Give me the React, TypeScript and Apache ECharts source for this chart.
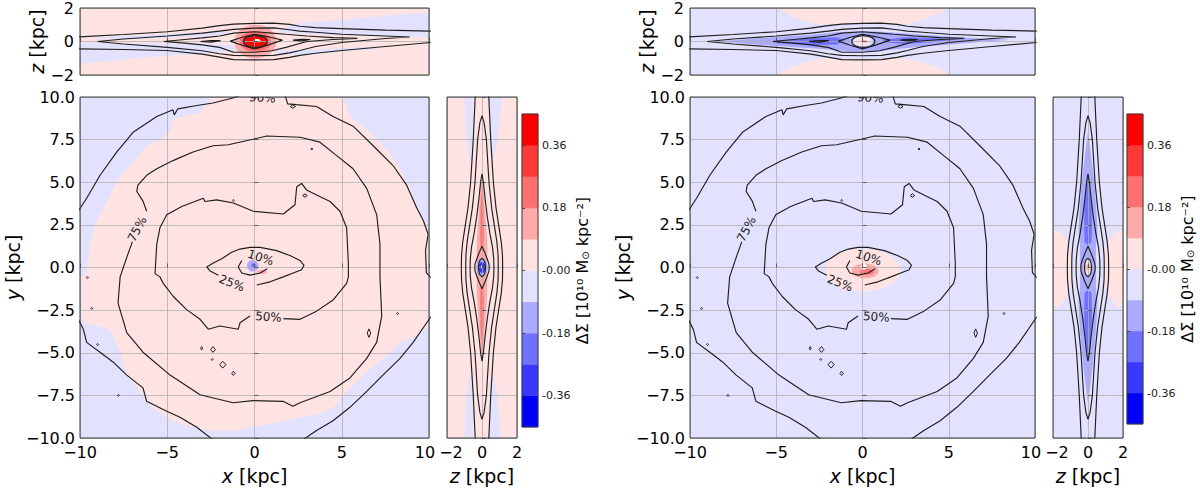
import React, { useEffect, useRef } from "react";
import * as echarts from "echarts";

type Pt = [number, number];

const FONT = "DejaVu Sans";
const INK = "#1e1e1e";

// ΔΣ colour levels and the bwr colours of the ten bands between them
const levels = [-0.45, -0.36, -0.27, -0.18, -0.09, 0, 0.09, 0.18, 0.27, 0.36, 0.45];
const bandColors = ["#0000ff", "#3838ff", "#7171ff", "#aaaaff", "#e2e2ff", "#ffe2e2", "#ffaaaa", "#ff7171", "#ff3838", "#ff0000"];
const colorbarTicks = [-0.36, -0.18, 0, 0.18, 0.36];
const PINK = bandColors[5];
const BLUE = bandColors[4];

// ---------- face-on (x, y) enclosed-mass contours, shared by both panels ----------
const face10: Pt[] = [[-0.73, 0.41], [-0.93, 0.03], [-0.73, -0.32], [-0.26, -0.45], [0.32, -0.32], [0.73, -0.07]];
const face25: Pt[] = [
  [0.13, -1.03], [0.89, -0.84], [1.65, -0.55], [2.22, -0.32], [2.7, -0.13], [2.84, 0.13], [2.61, 0.41],
  [2.03, 0.7], [1.27, 0.99], [0.32, 1.18], [-0.26, 1.18], [-0.83, 1.08], [-1.31, 0.89], [-1.88, 0.51],
  [-2.36, 0.26], [-2.74, 0.03], [-2.55, -0.2], [-2.07, -0.45],
];
const face50: Pt[] = [
  [1.65, -3.0], [2.61, -3.04], [3.56, -2.56], [4.52, -1.89], [5.28, -0.93], [5.38, -0.55], [5.38, 0.22],
  [5.28, 2.33], [4.9, 3.3], [4.33, 3.87], [3.56, 4.25], [2.99, 4.54], [2.7, 4.93], [2.42, 4.74], [2.32, 3.68],
  [1.65, 3.14], [-0.07, 3.3], [-1.21, 3.78], [-2.17, 3.97], [-2.84, 3.87], [-2.93, 4.06], [-4.17, 3.58],
  [-5.03, 3.1], [-5.42, 2.33], [-5.6, 1.37], [-5.7, -0.36], [-5.42, -0.55], [-5.23, -0.93], [-4.65, -1.7],
  [-3.89, -2.47], [-3.12, -3.04], [-2.65, -3.62], [-1.98, -3.43], [-0.93, -3.62], [-0.83, -3.24], [-0.26, -2.85],
];
const face75: Pt[] = [
  [-6.18, 3.3], [-6.39, 3.89], [-6.75, 4.47], [-6.68, 4.83], [-6.18, 5.41], [-5.6, 5.79], [-4.67, 6.27],
  [-3.52, 6.77], [-2.38, 7.14], [-1.5, 7.2], [-0.09, 7.52], [0.7, 7.71], [2.61, 7.64], [3.75, 7.35],
  [4.71, 6.56], [5.65, 5.79], [6.43, 4.64], [7.0, 3.1], [7.19, 1.37], [7.19, -0.55], [7.29, -2.85],
  [7.0, -4.39], [6.43, -5.33], [5.47, -6.48], [4.33, -7.27], [2.61, -7.93], [2.2, -8.14], [1.63, -7.85],
  [-0.09, -7.81], [-1.23, -7.93], [-3.12, -7.46], [-4.84, -6.31], [-6.39, -4.97], [-7.32, -3.82],
  [-7.82, -2.09], [-7.7, -0.55], [-7.25, 0.8], [-7.0, 1.5],
];
const face90a: Pt[] = [
  [-10.1, 3.31], [-9.62, 4.06], [-8.85, 5.41], [-7.9, 6.77], [-6.96, 7.93], [-5.6, 8.86], [-4.67, 9.25],
  [-4.6, 8.95], [-4.4, 9.3], [-3.3, 9.5], [-2.38, 9.65], [-1.23, 9.94], [-0.8, 10.1],
];
const face90b: Pt[] = [
  [1.75, 10.1], [1.9, 9.6], [2.4, 9.55], [3.56, 9.44], [4.5, 8.86], [5.65, 8.29], [6.8, 7.14], [7.94, 5.98],
  [8.72, 4.83], [9.3, 3.49], [9.68, 2.74], [9.95, 1.95], [9.8, 1.0], [9.85, -0.3], [10.1, -0.6],
];
const face90c: Pt[] = [
  [10.1, -2.9], [9.87, -3.24], [9.09, -4.39], [8.34, -5.33], [7.36, -6.31], [6.43, -7.27], [5.47, -8.2],
  [4.5, -8.99], [3.56, -9.56], [2.78, -10.1],
];
const face90d: Pt[] = [
  [-2.38, -10.1], [-3.31, -9.37], [-4.27, -8.78], [-5.03, -8.43], [-6.18, -7.85], [-6.39, -7.06],
  [-7.32, -6.31], [-8.11, -5.54], [-8.85, -4.97], [-9.62, -4.39], [-9.81, -3.62], [-10.1, -3.03],
];
// small isolated islands of the outer levels: [x, y, half-width, half-height]
const faceIslands = [
  [-2.38, -4.81, 0.14, 0.17], [-1.82, -5.7, 0.18, 0.2], [-1.21, -6.21, 0.1, 0.12], [6.56, -3.85, 0.1, 0.25],
  [2.89, 4.22, 0.13, 0.1], [2.2, 9.44, 0.15, 0.1], [-3.03, -4.74, 0.04, 0.1], [-2.42, -5.39, 0.04, 0.05],
  [-9.33, -2.4, 0.05, 0.05], [-8.99, -4.52, 0.05, 0.05], [-7.8, -7.5, 0.05, 0.05], [3.28, 6.95, 0.05, 0.05],
  [-1.21, 3.93, 0.05, 0.05], [-9.58, -0.59, 0.05, 0.05], [8.2, -2.7, 0.04, 0.04],
];
// contour labels: [x, y, rotation in degrees, text index]
const faceLabelText = ["10%", "25%", "50%", "75%", "90%"];
const faceLabels = [
  [0.35, 0.58, -18, 0], [-1.3, -0.92, -22, 1], [0.8, -2.9, -4, 2], [-6.72, 2.25, 62, 3], [0.45, 9.95, -3, 4],
];

// ---------- edge-on (x, z) contours, shared by both panels ----------
const edgeOuterUpper: Pt[] = [
  [-10.1, 0.27], [-7.5, 0.42], [-5, 0.58], [-3, 0.8], [-2, 0.95], [-1.2, 1.04], [0, 1.08], [1.1, 1.1],
  [2, 1.02], [2.6, 0.91], [3.5, 0.83], [5, 0.77], [7.5, 0.68], [10.1, 0.62],
];
const edgeOuterLower: Pt[] = [
  [-10.1, -0.44], [-7.5, -0.48], [-5, -0.54], [-3, -0.75], [-2, -0.93], [-1.2, -1.08], [0, -1.1],
  [1.1, -1.08], [2, -0.95], [2.6, -0.83], [3.5, -0.7], [5, -0.54], [7.5, -0.3], [10.1, -0.06],
];
const edgeSecond: Pt[] = [
  [-9, 0.0], [-7.5, 0.15], [-5, 0.33], [-3, 0.5], [-2, 0.62], [-1.2, 0.72], [0, 0.8], [1.1, 0.81], [2, 0.7],
  [2.6, 0.62], [3.5, 0.55], [5, 0.43], [7.5, 0.33], [8.9, 0.27], [7.5, 0.18], [5, -0.06], [3.5, -0.3],
  [2.6, -0.54], [2, -0.68], [1.1, -0.83], [0, -0.85], [-1.2, -0.83], [-2, -0.73], [-3, -0.55], [-5, -0.35],
  [-7.5, -0.15], [-9, 0.0],
];
const edgeThird: Pt[] = [
  [-5.2, 0], [-4, 0.12], [-3, 0.22], [-2, 0.33], [-1.2, 0.5], [0, 0.58], [1, 0.5], [1.8, 0.43], [3, 0.33],
  [4.5, 0.23], [5.9, 0.19], [4.5, 0.12], [3, 0.0], [1.8, -0.35], [1, -0.55], [0, -0.64], [-1.2, -0.64],
  [-2, -0.35], [-3, -0.2], [-4, -0.1], [-5.2, 0],
];
const edgeFourth: Pt[] = [
  [-1.4, 0.02], [-0.7, 0.25], [0, 0.43], [0.8, 0.28], [1.6, 0.08], [0.8, -0.2], [0, -0.44], [-0.7, -0.22], [-1.4, 0.02],
];
const edgeDashLeft: Pt[] = [[-3.1, 0.0], [-2.5, 0.06], [-1.95, 0.05], [-2.5, -0.04], [-3.1, 0.0]];
const edgeDashRight: Pt[] = [[2.2, 0.08], [2.7, 0.13], [3.2, 0.12], [2.7, 0.04], [2.2, 0.08]];
const edgeInnerRing = [[0.05, 0.0, 0.67, 0.35]];

// ---------- edge-on (z, y) contours: [y, half-width in z] from the mid-plane outwards ----------
const sideOuter = [[0, 1.18], [0.7, 1.17], [1.5, 1.1], [2.5, 0.95], [3.5, 0.8], [5, 0.65], [7.5, 0.5], [10.2, 0.38]];
const sideSecond = [[0, 0.93], [0.7, 0.92], [1.5, 0.85], [2.5, 0.7], [3.5, 0.55], [5, 0.4], [7.5, 0.25], [8.5, 0.12], [8.9, 0]];
const sideThird = [[0, 0.68], [0.5, 0.67], [1.2, 0.6], [2, 0.45], [3, 0.3], [4, 0.18], [5, 0.08], [5.5, 0]];
const sideFourth = [[0, 0.41], [0.2, 0.4], [0.5, 0.3], [0.9, 0.15], [1.25, 0]];
const sideFifth = [[0, 0.2], [0.3, 0.17], [0.45, 0.1], [0.55, 0]];

// ---------- ΔΣ fields, left panel ----------
const leftFacePink: Pt[] = [
  [-2.4, 10], [5.09, 10], [5.47, 8.86], [6.43, 8.1], [7.38, 7.14], [8.34, 5.79], [8.91, 4.64], [9.48, 3.1],
  [10, 2.33], [10, -3.43], [9.3, -4.0], [8.34, -4.39], [7.38, -5.35], [6.43, -6.12], [5.47, -7.08], [4.5, -8.24],
  [3.75, -8.61], [2.61, -8.8], [0.7, -9.19], [-1.23, -9.58], [-2.38, -9.58], [-3.5, -9.38], [-4.65, -9.0],
  [-5.8, -8.24], [-6.56, -7.27], [-7.32, -6.31], [-7.7, -4.97], [-8.3, -3.6], [-9.62, -3.3], [-9.9, -2.85],
  [-9.9, -0.5], [-9.62, -0.36], [-9.43, 1.37], [-9.04, 2.74], [-8.28, 4.24], [-7.9, 5.04], [-6.96, 6.2],
  [-6.18, 7.1], [-4.84, 7.9], [-4.7, 8.7], [-3.1, 9.1],
];
// spots: [x, y, half-width, half-height, band colour index]
const leftFaceSpots = [[-0.1, 0.1, 0.33, 0.34, 3], [-0.05, 0.1, 0.12, 0.16, 2], [0.42, -0.26, 0.3, 0.13, 6]];

const leftEdgeBlue: Pt[][] = [
  [[-10, -0.06], [-6.9, -0.12], [-3.1, -0.12], [-1.5, -0.2], [-0.8, -0.45], [-1.2, -0.6], [-3.1, -0.75],
    [-5, -0.85], [-6.9, -1.02], [-8.8, -1.22], [-10, -1.31]],
  [[-9, 0.12], [-6, 0.2], [-3, 0.3], [-1.5, 0.45], [-1.5, 0.62], [-3, 0.55], [-5, 0.45], [-7, 0.35], [-9, 0.25]],
  [[1.5, 0.75], [2.8, 1.16], [4.1, 1.2], [6, 1.39], [7.9, 1.58], [10, 1.72], [10, 0.27], [6, 0.33], [3.1, 0.43], [1.5, 0.55]],
  [[1.2, -0.5], [3, -0.5], [5, -0.4], [7, -0.3], [7, -0.45], [5, -0.6], [2.6, -0.85], [1.2, -0.7]],
];
const leftEdgeSpots = [
  [0.05, 0.0, 1.2, 1.0, 6], [0.05, 0.0, 0.9, 0.62, 7], [0.05, 0.0, 0.75, 0.45, 8], [0.05, 0.0, 0.6, 0.3, 9],
  [0.15, 0.05, 0.2, 0.1, -1],
];

const leftSideBlue: Pt[][] = [
  [[-1.0, 10], [-0.55, 10], [-0.5, 8.5], [-0.55, 7], [-0.6, 6], [-0.75, 6.5], [-0.9, 8]],
  [[0.4, 10], [1.15, 10], [1.0, 8.5], [0.8, 7], [0.55, 6], [0.45, 7], [0.4, 8.5]],
  [[-1.0, -10], [-0.55, -10], [-0.5, -8.5], [-0.55, -7], [-0.6, -6], [-0.75, -6.5], [-0.9, -8]],
  [[0.4, -10], [1.1, -10], [0.95, -8.5], [0.8, -7], [0.55, -6], [0.45, -7], [0.4, -8.5]],
];
const leftSideRed: Pt[] = [
  [0, 5.4], [0.1, 4.5], [0.2, 3], [0.3, 1.5], [0.3, -1.5], [0.2, -3], [0.1, -4.5], [0, -5.5], [-0.1, -4.5],
  [-0.2, -3], [-0.3, -1.5], [-0.3, 1.5], [-0.2, 3], [-0.1, 4.5],
];
const leftSideDeepRed: Pt[][] = [
  [[0, 4.6], [0.08, 3.5], [0.1, 2], [0.08, 1.2], [-0.08, 1.2], [-0.1, 2], [-0.08, 3.5]],
  [[0, -4.6], [0.08, -3.5], [0.1, -2], [0.08, -1.2], [-0.08, -1.2], [-0.1, -2], [-0.08, -3.5]],
];
const leftSideSpots = [[0, 0.0, 0.32, 0.55, 3], [0, 0.0, 0.2, 0.32, 1], [0, 0.05, 0.05, 0.1, -1]];

// ---------- ΔΣ fields, right panel ----------
const rightFaceSpots = [
  [0.0, -0.15, 2.17, 1.25, 5], [0.15, -0.2, 0.78, 0.43, 6], [0.25, -0.25, 0.4, 0.18, 7], [0.08, 0.05, 0.16, 0.18, -1],
];
const rightEdgePink: Pt[][] = [
  [[-4.9, 2], [4.96, 2], [4.48, 1.68], [3.5, 1.3], [2.34, 1.0], [1.0, 1.08], [-1.0, 1.08], [-2.3, 1.0], [-3.27, 1.2], [-4.24, 1.58]],
  [[-5, -2], [5.1, -2], [4.5, -1.6], [3.5, -1.25], [2.3, -1.0], [1, -1.05], [-1, -1.05], [-2.3, -1.0], [-3.3, -1.22], [-4.3, -1.6]],
];
const rightEdgeBlue: Pt[] = [
  [-8.5, 0.0], [-6, 0.2], [-3, 0.4], [-1.5, 0.55], [-0.8, 0.6], [0.8, 0.6], [1.5, 0.55], [3, 0.45], [6, 0.22],
  [8.5, 0.1], [6, -0.1], [3, -0.35], [1.5, -0.5], [0.8, -0.6], [-0.8, -0.6], [-1.5, -0.5], [-3, -0.4], [-6, -0.2],
];
const rightEdgeDeepBlue: Pt[][] = [
  [[-5, 0.05], [-3, 0.2], [-1.5, 0.25], [-1.0, 0.05], [-1.5, -0.18], [-3, -0.22], [-5, -0.1]],
  [[1.2, 0.1], [2.5, 0.25], [4, 0.2], [5.5, 0.12], [4, -0.05], [2.5, -0.15], [1.2, -0.05]],
  [[-3.1, 0.02], [-2.5, 0.09], [-1.9, 0.05], [-2.5, -0.06]],
  [[2.2, 0.1], [2.7, 0.15], [3.2, 0.12], [2.7, 0.02]],
];
const rightEdgeSpots = [[0.0, 0.0, 0.6, 0.32, 4], [0.0, 0.0, 0.45, 0.25, 5], [0.1, 0.0, 0.2, 0.08, 6]];

const rightSidePink: Pt[][] = [
  [[-2, 2.15], [-1.6, 2.15], [-1.15, 1.5], [-0.95, 0.9], [-0.95, -0.9], [-1.15, -1.5], [-1.6, -2.3], [-2, -2.3]],
  [[2, 2.15], [1.6, 2.15], [1.15, 1.5], [0.95, 0.9], [0.95, -0.9], [1.15, -1.5], [1.6, -2.3], [2, -2.3]],
];
const rightSideBlue: Pt[] = [
  [0, 8], [0.12, 7], [0.25, 6], [0.4, 4.5], [0.5, 3], [0.55, 2], [0.45, 1.2], [0.45, -1.2], [0.55, -2], [0.5, -3],
  [0.4, -4.5], [0.25, -6], [0.12, -7], [0, -8], [-0.12, -7], [-0.25, -6], [-0.4, -4.5], [-0.5, -3], [-0.55, -2],
  [-0.45, -1.2], [-0.45, 1.2], [-0.55, 2], [-0.5, 3], [-0.4, 4.5], [-0.25, 6], [-0.12, 7],
];
const rightSideDeepBlue: Pt[][] = [
  [[0, 5.3], [0.1, 4.5], [0.2, 3.5], [0.22, 2.5], [0.2, 1.5], [0, 1.3], [-0.2, 1.5], [-0.22, 2.5], [-0.2, 3.5], [-0.1, 4.5]],
  [[0, -5.3], [0.1, -4.5], [0.2, -3.5], [0.22, -2.5], [0.2, -1.5], [0, -1.3], [-0.2, -1.5], [-0.22, -2.5], [-0.2, -3.5], [-0.1, -4.5]],
];
const rightSideSpots = [[0, 0, 0.22, 0.5, 5], [0, 0, 0.1, 0.2, 6]];

// ---------- layout of the two panels (pixels) ----------
const PANELS = [
  { top: [80, 6, 349, 69], main: [80, 97, 349, 347], side: [447, 97, 70, 347], cbar: [522, 114, 16, 313] },
  { top: [690, 6, 345, 69], main: [690, 97, 345, 344], side: [1053, 97, 70, 344], cbar: [1127, 114, 16, 310] },
];

const spotColor = (i: number) => (i < 0 ? "#ffffff" : bandColors[i]);
const minus = (s: string) => s.replace("-", "\u2212");

function polygon(pts: Pt[], fill: string, g: number, z = 1) {
  return {
    type: "custom", xAxisIndex: g, yAxisIndex: g, data: pts, encode: { x: 0, y: 1 }, clip: true, silent: true, z,
    renderItem: (params: any, api: any) => {
      if (params.dataIndex !== 0) return null;
      return { type: "polygon", shape: { points: pts.map((p) => api.coord(p)) }, style: { fill } };
    },
  };
}

function spots(items: number[][], g: number, z = 1) {
  return {
    type: "custom", xAxisIndex: g, yAxisIndex: g, data: items, encode: { x: 0, y: 1 }, clip: true, silent: true, z,
    renderItem: (params: any, api: any) => {
      const c = api.coord([api.value(0), api.value(1)]);
      const s = api.size([api.value(2), api.value(3)]);
      return { type: "ellipse", shape: { cx: c[0], cy: c[1], rx: s[0], ry: s[1] }, style: { fill: spotColor(items[params.dataIndex][4]) } };
    },
  };
}

function contour(pts: Pt[], g: number) {
  return {
    type: "line", xAxisIndex: g, yAxisIndex: g, data: pts, showSymbol: false, symbol: "none", clip: true, silent: true,
    lineStyle: { color: INK, width: 1.15 }, z: 8,
  };
}

function rings(items: number[][], g: number) {
  return {
    type: "custom", xAxisIndex: g, yAxisIndex: g, data: items, encode: { x: 0, y: 1 }, clip: true, silent: true, z: 8,
    renderItem: (params: any, api: any) => {
      const c = api.coord([api.value(0), api.value(1)]);
      const s = api.size([api.value(2), api.value(3)]);
      return { type: "ellipse", shape: { cx: c[0], cy: c[1], rx: s[0], ry: s[1] }, style: { fill: "none", stroke: INK, lineWidth: 1.15 } };
    },
  };
}

function islands(items: number[][], g: number) {
  return {
    type: "custom", xAxisIndex: g, yAxisIndex: g, data: items, encode: { x: 0, y: 1 }, clip: true, silent: true, z: 8,
    renderItem: (params: any, api: any) => {
      const c = api.coord([api.value(0), api.value(1)]);
      const s = api.size([api.value(2), api.value(3)]);
      const w = Math.max(s[0], 1), h = Math.max(s[1], 1);
      return {
        type: "polygon",
        shape: { points: [[c[0], c[1] - h], [c[0] + w, c[1]], [c[0], c[1] + h], [c[0] - w, c[1]]] },
        style: { fill: "none", stroke: INK, lineWidth: 1 },
      };
    },
  };
}

function contourLabels(g: number) {
  return {
    type: "custom", xAxisIndex: g, yAxisIndex: g, data: faceLabels, encode: { x: 0, y: 1 }, clip: true, silent: true, z: 9,
    renderItem: (params: any, api: any) => {
      const c = api.coord([api.value(0), api.value(1)]);
      return {
        type: "text", x: c[0], y: c[1], rotation: (api.value(2) * Math.PI) / 180,
        style: {
          text: faceLabelText[faceLabels[params.dataIndex][3]], fill: "#222", font: `12px '${FONT}'`,
          align: "center", verticalAlign: "middle",
        },
      };
    },
  };
}

function colorbar(g: number) {
  const bands = bandColors.map((_, i) => [0, levels[i], 1, levels[i + 1]]);
  return {
    type: "custom", xAxisIndex: g, yAxisIndex: g, data: bands, encode: { x: 0, y: 1 }, silent: true, z: 1,
    renderItem: (params: any, api: any) => {
      const a = api.coord([api.value(0), api.value(1)]);
      const b = api.coord([api.value(2), api.value(3)]);
      return {
        type: "rect",
        shape: { x: a[0], y: b[1], width: b[0] - a[0], height: a[1] - b[1] },
        style: { fill: bandColors[params.dataIndex], stroke: bandColors[params.dataIndex], lineWidth: 0.5 },
      };
    },
  };
}

// one side of a profile, walked from +y to −y
function openProfile(profile: number[][], sign: number): Pt[] {
  const pts: Pt[] = [];
  for (let i = profile.length - 1; i >= 0; i--) pts.push([sign * profile[i][1], profile[i][0]]);
  for (let i = 1; i < profile.length; i++) pts.push([sign * profile[i][1], -profile[i][0]]);
  return pts;
}

function closedProfile(profile: number[][]): Pt[] {
  const right = openProfile(profile, 1);
  const left = openProfile(profile, -1).reverse();
  return [...right, ...left.slice(1)];
}

const nameStyle = {
  fontFamily: FONT, fontSize: 19, color: "#000",
  rich: { i: { fontFamily: FONT, fontSize: 19, fontStyle: "italic", color: "#000" } },
};
const tickLabel = { color: "#000", fontFamily: FONT, fontSize: 16 };
const splitLine = { show: true, lineStyle: { color: "#b0b0b0", width: 0.8 } };
const axisTick = { show: true, inside: true, length: 4, lineStyle: { color: "#444", width: 0.8 } };
// the outermost x labels of neighbouring axes sit edge to edge; nudge them apart slightly
const edgeRich = {
  r: { ...tickLabel, padding: [0, 8, 0, 0] },
  l: { ...tickLabel, padding: [0, 0, 0, 8] },
};

function buildOption() {
  const grid: any[] = [];
  const xAxis: any[] = [];
  const yAxis: any[] = [];
  const series: any[] = [];
  const frame = { show: true, borderColor: "#3a3a3a", borderWidth: 1, backgroundColor: "transparent", z: 10 };
  const box = (r: number[]) => ({ ...frame, left: r[0], top: r[1], width: r[2], height: r[3] });

  PANELS.forEach((p, k) => {
    const gTop = k * 4, gMain = k * 4 + 1, gSide = k * 4 + 2, gBar = k * 4 + 3;
    grid.push(box(p.top), box(p.main), box(p.side), box(p.cbar));

    // edge-on x–z view
    xAxis.push({
      type: "value", gridIndex: gTop, min: -10, max: 10, interval: 5, z: 5,
      axisLine: { show: false }, axisTick, splitLine, axisLabel: { show: false },
    });
    yAxis.push({
      type: "value", gridIndex: gTop, min: -2, max: 2, interval: 2, z: 5,
      axisLine: { show: false }, axisTick, splitLine,
      axisLabel: { ...tickLabel, margin: 6, formatter: (v: number) => minus(String(v)) },
      name: "{i|z} [kpc]", nameLocation: "middle", nameGap: 26, nameTextStyle: nameStyle,
    });
    // face-on x–y view
    xAxis.push({
      type: "value", gridIndex: gMain, min: -10, max: 10, interval: 5, z: 5,
      axisLine: { show: false }, axisTick, splitLine,
      axisLabel: {
        ...tickLabel, margin: 6, rich: edgeRich,
        formatter: (v: number) => (v === 10 ? "{r|10}" : minus(String(v))),
      },
      name: "{i|x} [kpc]", nameLocation: "middle", nameGap: 28, nameTextStyle: nameStyle,
    });
    yAxis.push({
      type: "value", gridIndex: gMain, min: -10, max: 10, interval: 2.5, z: 5,
      axisLine: { show: false }, axisTick, splitLine,
      axisLabel: { ...tickLabel, margin: 5, formatter: (v: number) => minus(v.toFixed(1)) },
      name: "{i|y} [kpc]", nameLocation: "middle", nameGap: 54, nameTextStyle: nameStyle,
    });
    // edge-on z–y view
    xAxis.push({
      type: "value", gridIndex: gSide, min: -2, max: 2, interval: 2, z: 5,
      axisLine: { show: false }, axisTick, splitLine,
      axisLabel: {
        ...tickLabel, margin: 6, rich: edgeRich,
        formatter: (v: number) => (v === -2 ? "{l|\u22122}" : minus(String(v))),
      },
      name: "{i|z} [kpc]", nameLocation: "middle", nameGap: 28, nameTextStyle: nameStyle,
    });
    yAxis.push({
      type: "value", gridIndex: gSide, min: -10, max: 10, interval: 2.5, z: 5,
      axisLine: { show: false }, axisTick, splitLine, axisLabel: { show: false },
    });
    // colour bar
    xAxis.push({ type: "value", gridIndex: gBar, min: 0, max: 1, show: false });
    yAxis.push({
      type: "value", gridIndex: gBar, position: "right", min: levels[0], max: levels[levels.length - 1], z: 5,
      axisLine: { show: false }, splitLine: { show: false },
      axisTick: { show: true, length: 3, customValues: colorbarTicks, lineStyle: { color: "#333", width: 0.8 } },
      axisLabel: {
        customValues: colorbarTicks, color: "#222", fontFamily: FONT, fontSize: 11, margin: 4,
        formatter: (v: number) => (Math.abs(v) < 1e-9 ? "-0.00" : v.toFixed(2)),
      },
      name: "ΔΣ [10¹⁰ M{sub|⊙} kpc⁻²]", nameLocation: "middle", nameRotate: 90, nameGap: 36,
      nameTextStyle: {
        fontFamily: FONT, fontSize: 16, color: "#000",
        rich: { sub: { fontFamily: FONT, fontSize: 10, verticalAlign: "bottom", padding: [6, 0, 0, 0] } },
      },
    });

    // ---- filled ΔΣ bands ----
    const whole = (xr: number, yr: number): Pt[] => [[-xr, -yr], [xr, -yr], [xr, yr], [-xr, yr]];
    if (k === 0) {
      series.push(polygon(whole(10, 2), PINK, gTop, 0));
      leftEdgeBlue.forEach((poly) => series.push(polygon(poly, BLUE, gTop)));
      series.push(spots(leftEdgeSpots, gTop, 2));

      series.push(polygon(whole(10, 10), BLUE, gMain, 0));
      series.push(polygon(leftFacePink, PINK, gMain));
      series.push(spots(leftFaceSpots, gMain, 2));

      series.push(polygon(whole(2, 10), PINK, gSide, 0));
      leftSideBlue.forEach((poly) => series.push(polygon(poly, BLUE, gSide)));
      series.push(polygon(leftSideRed, bandColors[6], gSide));
      leftSideDeepRed.forEach((poly) => series.push(polygon(poly, bandColors[7], gSide, 2)));
      series.push(spots(leftSideSpots, gSide, 3));
    } else {
      series.push(polygon(whole(10, 2), BLUE, gTop, 0));
      rightEdgePink.forEach((poly) => series.push(polygon(poly, PINK, gTop)));
      series.push(polygon(rightEdgeBlue, bandColors[3], gTop));
      rightEdgeDeepBlue.forEach((poly, i) => series.push(polygon(poly, bandColors[i < 2 ? 2 : 1], gTop, 2)));
      series.push(spots(rightEdgeSpots, gTop, 3));

      series.push(polygon(whole(10, 10), BLUE, gMain, 0));
      series.push(spots(rightFaceSpots, gMain, 2));

      series.push(polygon(whole(2, 10), BLUE, gSide, 0));
      rightSidePink.forEach((poly) => series.push(polygon(poly, PINK, gSide)));
      series.push(polygon(rightSideBlue, bandColors[3], gSide));
      rightSideDeepBlue.forEach((poly) => series.push(polygon(poly, bandColors[2], gSide, 2)));
      series.push(spots(rightSideSpots, gSide, 3));
    }

    // ---- contours ----
    [edgeOuterUpper, edgeOuterLower, edgeSecond, edgeThird, edgeFourth, edgeDashLeft, edgeDashRight]
      .forEach((c) => series.push(contour(c, gTop)));
    series.push(rings(edgeInnerRing, gTop));

    [face10, face25, face50, face75, face90a, face90b, face90c, face90d].forEach((c) => series.push(contour(c, gMain)));
    series.push(islands(faceIslands, gMain));
    series.push(contourLabels(gMain));

    series.push(contour(openProfile(sideOuter, 1), gSide));
    series.push(contour(openProfile(sideOuter, -1), gSide));
    [sideSecond, sideThird, sideFourth, sideFifth].forEach((pr) => series.push(contour(closedProfile(pr), gSide)));

    series.push(colorbar(gBar));
  });

  return {
    animation: false,
    backgroundColor: "#ffffff",
    textStyle: { fontFamily: FONT },
    grid, xAxis, yAxis, series,
  };
}

export default function App() {
  const ref = useRef<HTMLDivElement>(null);
  useEffect(() => {
    document.body.style.margin = "0";
    const chart = echarts.init(ref.current!, null, { renderer: "svg" });
    chart.setOption(buildOption() as any);
    return () => chart.dispose();
  }, []);
  return <div ref={ref} style={{ width: 1200, height: 490, background: "#fff" }} />;
}
